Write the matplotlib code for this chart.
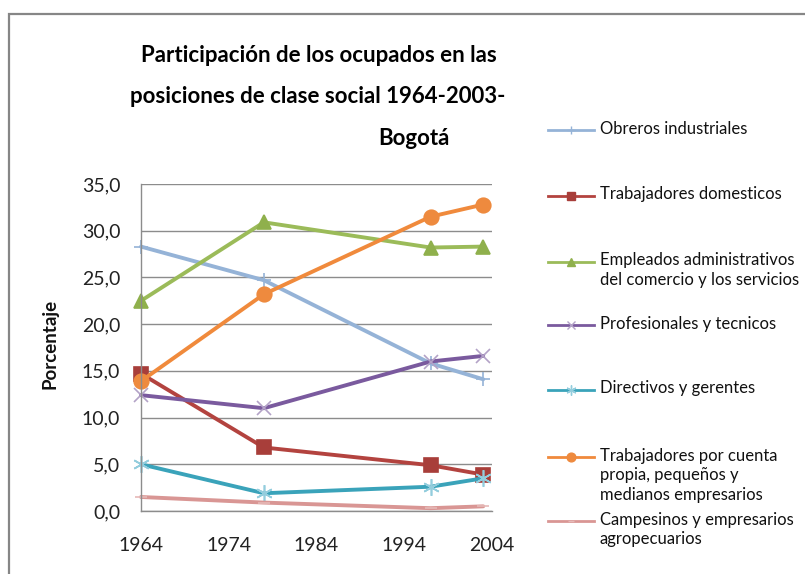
import numpy as np
import matplotlib
matplotlib.use("Agg")
import matplotlib.pyplot as plt
from matplotlib.lines import Line2D
from matplotlib.patches import Rectangle

plt.rcParams['font.family'] = ['Lato', 'DejaVu Sans']

# Datos (porcentaje de ocupados, Bogota)
anios = [1964, 1978, 1997, 2003]
obreros = [28.3, 24.7, 15.8, 14.1]
domesticos = [14.7, 6.8, 4.9, 3.9]
empleados = [22.5, 30.9, 28.2, 28.3]
profesionales = [12.4, 11.0, 16.0, 16.6]
directivos = [5.0, 1.9, 2.6, 3.5]
cuenta_propia = [13.9, 23.2, 31.5, 32.8]
campesinos = [1.5, 0.9, 0.3, 0.5]

etiquetas = ["Obreros industriales",
             "Trabajadores domesticos",
             "Empleados administrativos\ndel comercio y los servicios",
             "Profesionales y tecnicos",
             "Directivos y gerentes",
             "Trabajadores por cuenta\npropia, pequeños y\nmedianos empresarios",
             "Campesinos y empresarios\nagropecuarios"]
series = [obreros, domesticos, empleados, profesionales, directivos, cuenta_propia, campesinos]

# estilo: (color linea, marcador, color marcador, tamano)
estilos = [("#95B3D7", "+", "#95B3D7", 10),
           ("#B3433F", "s", "#A83E3A", 9.5),
           ("#9BBB59", "^", "#8FB04C", 10.5),
           ("#7A5A9E", "x", "#B3A2C7", 10),
           ("#3AA3BA", (6, 2, 0), "#93CDDD", 12),
           ("#F08A3C", "o", "#EE8A3E", 10.5),
           ("#D99694", "_", "#E6B9B8", 8)]

W, H = 805, 574


def fx(px):
    return px / W


def fy(py):
    return 1 - py / H


fig = plt.figure(figsize=(W / 100, H / 100), dpi=100)

# marco del grafico
fig.patches.append(Rectangle((fx(9), -0.1), 1.2, fy(14) + 0.1, transform=fig.transFigure,
                             fill=False, edgecolor="#868686", linewidth=1.6))

ax = fig.add_axes([fx(141), fy(511), (492 - 141) / W, (511 - 184) / H])

for datos, (col, mk, mcol, ms) in zip(series, estilos):
    ax.plot(anios, datos, color=col, linewidth=2.8, marker=mk, markersize=ms,
            markerfacecolor=mcol, markeredgecolor=mcol, markeredgewidth=1.2,
            solid_capstyle="round", clip_on=False)

ax.set_xlim(1964, 2004)
ax.set_ylim(0, 35)
ax.set_xticks(np.arange(1964, 2005, 10))
ax.set_yticks(np.arange(0, 36, 5))
ax.set_yticklabels([f"{v:.1f}".replace(".", ",") for v in np.arange(0, 36, 5)])
ax.tick_params(axis="both", length=0, labelsize=14, colors="#222222")
ax.tick_params(axis="y", pad=15)
ax.tick_params(axis="x", pad=19)
ax.grid(axis="y", color="#8C8C8C", linewidth=1.0)
ax.set_axisbelow(True)
for s in ["top", "right"]:
    ax.spines[s].set_visible(False)
for s in ["left", "bottom"]:
    ax.spines[s].set_color("#8C8C8C")
    ax.spines[s].set_linewidth(1.0)

fig.text(fx(50), fy(344), "Porcentaje", rotation=90, ha="center", va="center",
         fontsize=13.5, fontweight="bold", color="#111111")

# titulo
fig.text(fx(319), fy(62), "Participación de los ocupados en las", ha="center",
         va="baseline", fontsize=16, fontweight="bold")
fig.text(fx(317.5), fy(103), "posiciones de clase social 1964-2003-", ha="center",
         va="baseline", fontsize=16, fontweight="bold")
fig.text(fx(414), fy(145), "Bogotá", ha="center", va="baseline", fontsize=16,
         fontweight="bold")

# leyenda
centros = [130, 196, 262, 325, 390, 457, 521]
for lab, (col, mk, mcol, ms), cy in zip(etiquetas, estilos, centros):
    fig.add_artist(Line2D([fx(548), fx(594)], [fy(cy), fy(cy)], color=col,
                          linewidth=2.0, transform=fig.transFigure))
    fig.add_artist(Line2D([fx(571)], [fy(cy)], marker=mk, markersize=ms * 0.6,
                          markerfacecolor=mcol, markeredgecolor=mcol,
                          markeredgewidth=1.0, linestyle="none",
                          transform=fig.transFigure))
    fig.text(fx(600), fy(cy - 9.5), lab, ha="left", va="top", fontsize=12,
             linespacing=1.3, color="#111111")

fig.savefig("out.png", dpi=100)
